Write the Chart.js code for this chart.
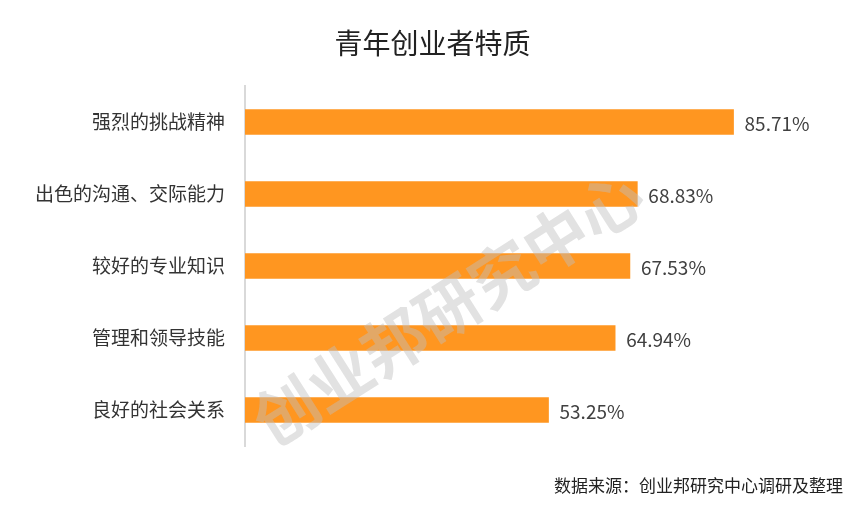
<!DOCTYPE html>
<html>
<head>
<meta charset="utf-8">
<script src="https://cdn.jsdelivr.net/npm/chart.js@4"></script>
<style>
  html, body { margin: 0; padding: 0; background: #fff; }
  #wrap { width: 865px; height: 532px; }
</style>
</head>
<body>
<div id="wrap"><canvas id="chart"></canvas></div>
<script>
// chart data
const categories = ['强烈的挑战精神', '出色的沟通、交际能力', '较好的专业知识', '管理和领导技能', '良好的社会关系'];
const shares = [85.71, 68.83, 67.53, 64.94, 53.25];
const chartTitle = '青年创业者特质';
const sourceNote = '数据来源：创业邦研究中心调研及整理';
const watermarkText = '创业邦研究中心';

const FONT = '"Noto Sans CJK SC", "Noto Sans", sans-serif';

// value labels at the end of each bar
const valueLabels = {
    id: 'valueLabels',
    afterDatasetsDraw(chart) {
        const ctx = chart.ctx;
        const meta = chart.getDatasetMeta(0);
        ctx.save();
        ctx.font = '19px ' + FONT;
        ctx.fillStyle = '#404040';
        ctx.textAlign = 'left';
        ctx.textBaseline = 'middle';
        meta.data.forEach((bar, i) => {
            ctx.fillText(shares[i].toFixed(2) + '%', bar.x + 11, bar.y + 2);
        });
        ctx.restore();
    }
};

// title (centred on the whole canvas), watermark and source line
const extras = {
    id: 'extras',
    afterDraw(chart) {
        const ctx = chart.ctx;
        ctx.save();
        ctx.font = '28px ' + FONT;
        ctx.fillStyle = '#222';
        ctx.textAlign = 'center';
        ctx.textBaseline = 'middle';
        ctx.fillText(chartTitle, chart.width / 2, 43);
        ctx.restore();

        ctx.save();
        ctx.translate(448, 308);
        ctx.rotate(-32.5 * Math.PI / 180);
        ctx.font = 'bold 64px ' + FONT;
        ctx.fillStyle = 'rgba(190, 190, 190, 0.45)';
        ctx.textAlign = 'center';
        ctx.textBaseline = 'middle';
        ctx.fillText(watermarkText, 0, 0);
        ctx.restore();

        ctx.save();
        ctx.font = '17px ' + FONT;
        ctx.fillStyle = '#222';
        ctx.textAlign = 'right';
        ctx.textBaseline = 'middle';
        ctx.fillText(sourceNote, 843, 486);
        ctx.restore();
    }
};

new Chart(document.getElementById('chart'), {
    type: 'bar',
    data: {
        labels: categories,
        datasets: [{
            data: shares,
            backgroundColor: '#FF9620',
            barThickness: 25
        }]
    },
    options: {
        indexAxis: 'y',
        responsive: true,
        maintainAspectRatio: false,
        animation: false,
        layout: { padding: { left: 20, right: 50, top: 86, bottom: 86 } },
        scales: {
            x: { display: false, min: 0, max: 100 },
            y: {
                grid: { display: false, drawTicks: false },
                border: { display: true, color: '#D9D9D9', width: 2 },
                ticks: { color: '#333', padding: 20, font: { size: 19, family: FONT } },
                afterFit(scale) { scale.width = 225; }
            }
        },
        plugins: {
            legend: { display: false },
            tooltip: { enabled: false },
            title: { display: false }
        }
    },
    plugins: [valueLabels, extras]
});
</script>
</body>
</html>
